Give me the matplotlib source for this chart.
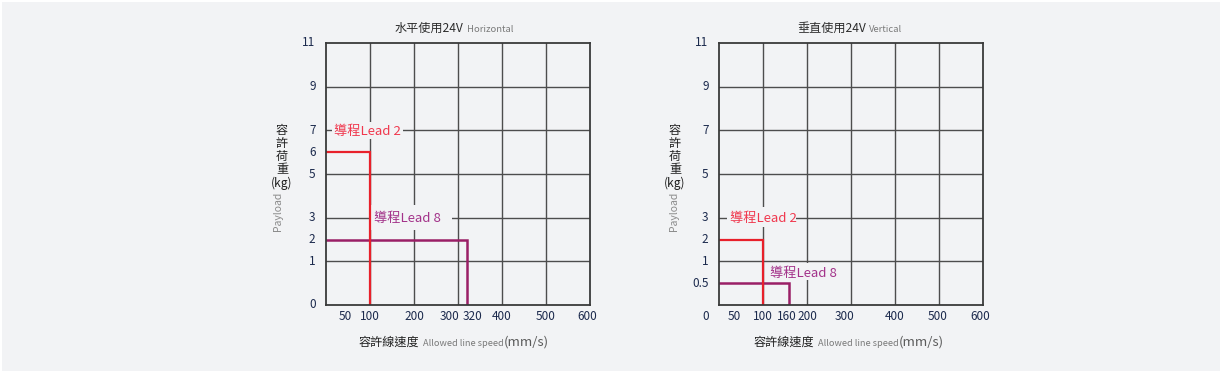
import numpy as np
import matplotlib
matplotlib.use('Agg')
import matplotlib.pyplot as plt
from matplotlib.patches import Rectangle

plt.rcParams['font.family'] = ['Noto Sans CJK TC', 'DejaVu Sans']

# ---------------- data ----------------
h_lead2_speed, h_lead2_load = 100, 6
h_lead8_speed, h_lead8_load = 320, 2
v_lead2_speed, v_lead2_load = 100, 2
v_lead8_speed, v_lead8_load = 160, 0.5

h_xticks = [50, 100, 200, 300, 320, 400, 500, 600]
h_yticks = [0, 1, 2, 3, 5, 6, 7, 9, 11]
v_xticks = [50, 100, 160, 200, 300, 400, 500, 600]
v_yticks = [0, 0.5, 1, 2, 3, 5, 7, 9, 11]
grid_x = [100, 200, 300, 400, 500]
grid_y = [1, 3, 5, 7, 9]

lead2_label = '導程Lead 2'
lead8_label = '導程Lead 8'

# ---------------- style ----------------
W, H = 1222, 373
BG = '#f2f3f5'
NAVY = '#1c2a4d'
GRAY = '#7a7a7a'
RED = '#e8202a'
PURPLE = '#9a1f66'
RED_T = '#f0384e'
PURPLE_T = '#a3338a'
GRIDC = '#4d4d4d'
TICK_FS = 8.5

fig = plt.figure(figsize=(W / 100, H / 100), dpi=100, facecolor='white')
fig.patches.append(Rectangle((2 / W, 2 / H), (W - 4) / W, (H - 4) / H,
                             transform=fig.transFigure, facecolor=BG,
                             edgecolor='none', zorder=-10))


def fwd(v):
    v = np.asarray(v, float)
    return np.where(v <= 1, v, 1 + (v - 1) / 2)


def inv(p):
    p = np.asarray(p, float)
    return np.where(p <= 1, p, 1 + 2 * (p - 1))


def px(x, y):
    return x / W, 1 - y / H


def make_axes(left_px):
    ax = fig.add_axes([left_px / W, 1 - 305 / H, 264 / W, 262 / H])
    ax.set_zorder(1)
    ax.set_facecolor('none')
    ax.set_yscale('function', functions=(fwd, inv))
    ax.set_xlim(0, 600)
    ax.set_ylim(0, 11)
    ax.set_xticks([])
    ax.set_yticks([])
    ax.minorticks_off()
    for s in ax.spines.values():
        s.set_color('#3a3a3a')
        s.set_linewidth(1.3)
        s.set_zorder(5)
    for gx in grid_x:
        ax.axvline(gx, color=GRIDC, lw=1.0, zorder=1)
    for gy in grid_y:
        ax.axhline(gy, color=GRIDC, lw=1.0, zorder=1)
    return ax


def xlabels(ax, ticks, offsets):
    for t in ticks:
        dx = offsets.get(t, 0)
        ax.annotate(str(t), xy=(t, 0), xycoords=('data', 'axes fraction'),
                    xytext=(dx, -8), textcoords='offset points',
                    ha='center', va='center', fontsize=TICK_FS, color=NAVY,
                    annotation_clip=False)


def ylabels(ax, ticks, offsets):
    for t in ticks:
        dx, dy = offsets.get(t, (0, 0))
        ax.annotate(f'{t:g}', xy=(0, t), xycoords=('axes fraction', 'data'),
                    xytext=(-7.5 + dx, dy), textcoords='offset points',
                    ha='right', va='center', fontsize=TICK_FS, color=NAVY,
                    annotation_clip=False)


def label_box(ax, x0, x1, y0, y1):
    ax.add_patch(Rectangle((x0, y0), x1 - x0, y1 - y0, facecolor=BG,
                           edgecolor='none', zorder=2))


# ---------------- left: horizontal ----------------
axL = make_axes(326)
axL.plot([0, h_lead2_speed, h_lead2_speed], [h_lead2_load, h_lead2_load, 0],
         color=RED, lw=1.6, zorder=4, solid_joinstyle='miter')
axL.plot([0, h_lead8_speed, h_lead8_speed], [h_lead8_load, h_lead8_load, 0],
         color=PURPLE, lw=1.8, zorder=3, solid_joinstyle='miter')
label_box(axL, 14, 175, 6.6, 7.4)
axL.text(94, 6.95, lead2_label, ha='center', va='center', fontsize=9.5,
         color=RED_T, zorder=6)
label_box(axL, 102, 287, 2.45, 3.58)
axL.text(184, 2.95, lead8_label, ha='center', va='center', fontsize=9.5,
         color=PURPLE_T, zorder=6)
xlabels(axL, h_xticks, {50: -2, 300: -6.3, 320: 4.3, 600: -2})
ylabels(axL, h_yticks, {})

# ---------------- right: vertical ----------------
axR = make_axes(719)
axR.plot([0, v_lead2_speed, v_lead2_speed], [v_lead2_load, v_lead2_load, 0],
         color=RED, lw=1.6, zorder=4, solid_joinstyle='miter')
axR.plot([0, v_lead8_speed, v_lead8_speed], [v_lead8_load, v_lead8_load, 0],
         color=PURPLE, lw=1.8, zorder=3, solid_joinstyle='miter')
label_box(axR, 18, 175, 2.55, 3.5)
axR.text(100, 2.95, lead2_label, ha='center', va='center', fontsize=9.5,
         color=RED_T, zorder=6)
label_box(axR, 115, 280, 0.57, 0.97)
axR.text(193, 0.73, lead8_label, ha='center', va='center', fontsize=9.5,
         color=PURPLE_T, zorder=6)
xlabels(axR, v_xticks, {50: -4.5, 160: -2, 300: -5, 500: -1, 600: -2})
ylabels(axR, v_yticks, {0: (0, -8)})

# ---------------- titles / axis titles ----------------
for (x_end, x_start, zh, en) in [(463, 467, '水平使用24V', 'Horizontal'),
                                 (866, 869, '垂直使用24V', 'Vertical')]:
    fig.text(*px(x_end, 28), zh, ha='right', va='center', fontsize=8.7,
             color='#2b2b2b')
    fig.text(*px(x_start, 29), en, ha='left', va='center', fontsize=6.8,
             color=GRAY)

for (x0, x1, x2) in [(359, 423, 504), (754, 818, 899)]:
    fig.text(*px(x0, 342), '容許線速度', ha='left', va='center', fontsize=8.7,
             color='#222222')
    fig.text(*px(x1, 343), 'Allowed line speed', ha='left', va='center',
             fontsize=6.6, color=GRAY)
    fig.text(*px(x2, 342), '(mm/s)', ha='left', va='center', fontsize=9.5,
             color='#5a5a5a')

for (xa, xb) in [(282, 278), (675, 674)]:
    fig.text(*px(xa, 157), '容\n許\n荷\n重\n(kg)', ha='center', va='center',
             fontsize=8.7, color='#222222', linespacing=1.0)
    fig.text(*px(xb, 211), 'Payload', ha='center', va='center', rotation=90,
             fontsize=7.5, color='#8a8a8a')

fig.savefig('out.png', dpi=100, facecolor='white')
